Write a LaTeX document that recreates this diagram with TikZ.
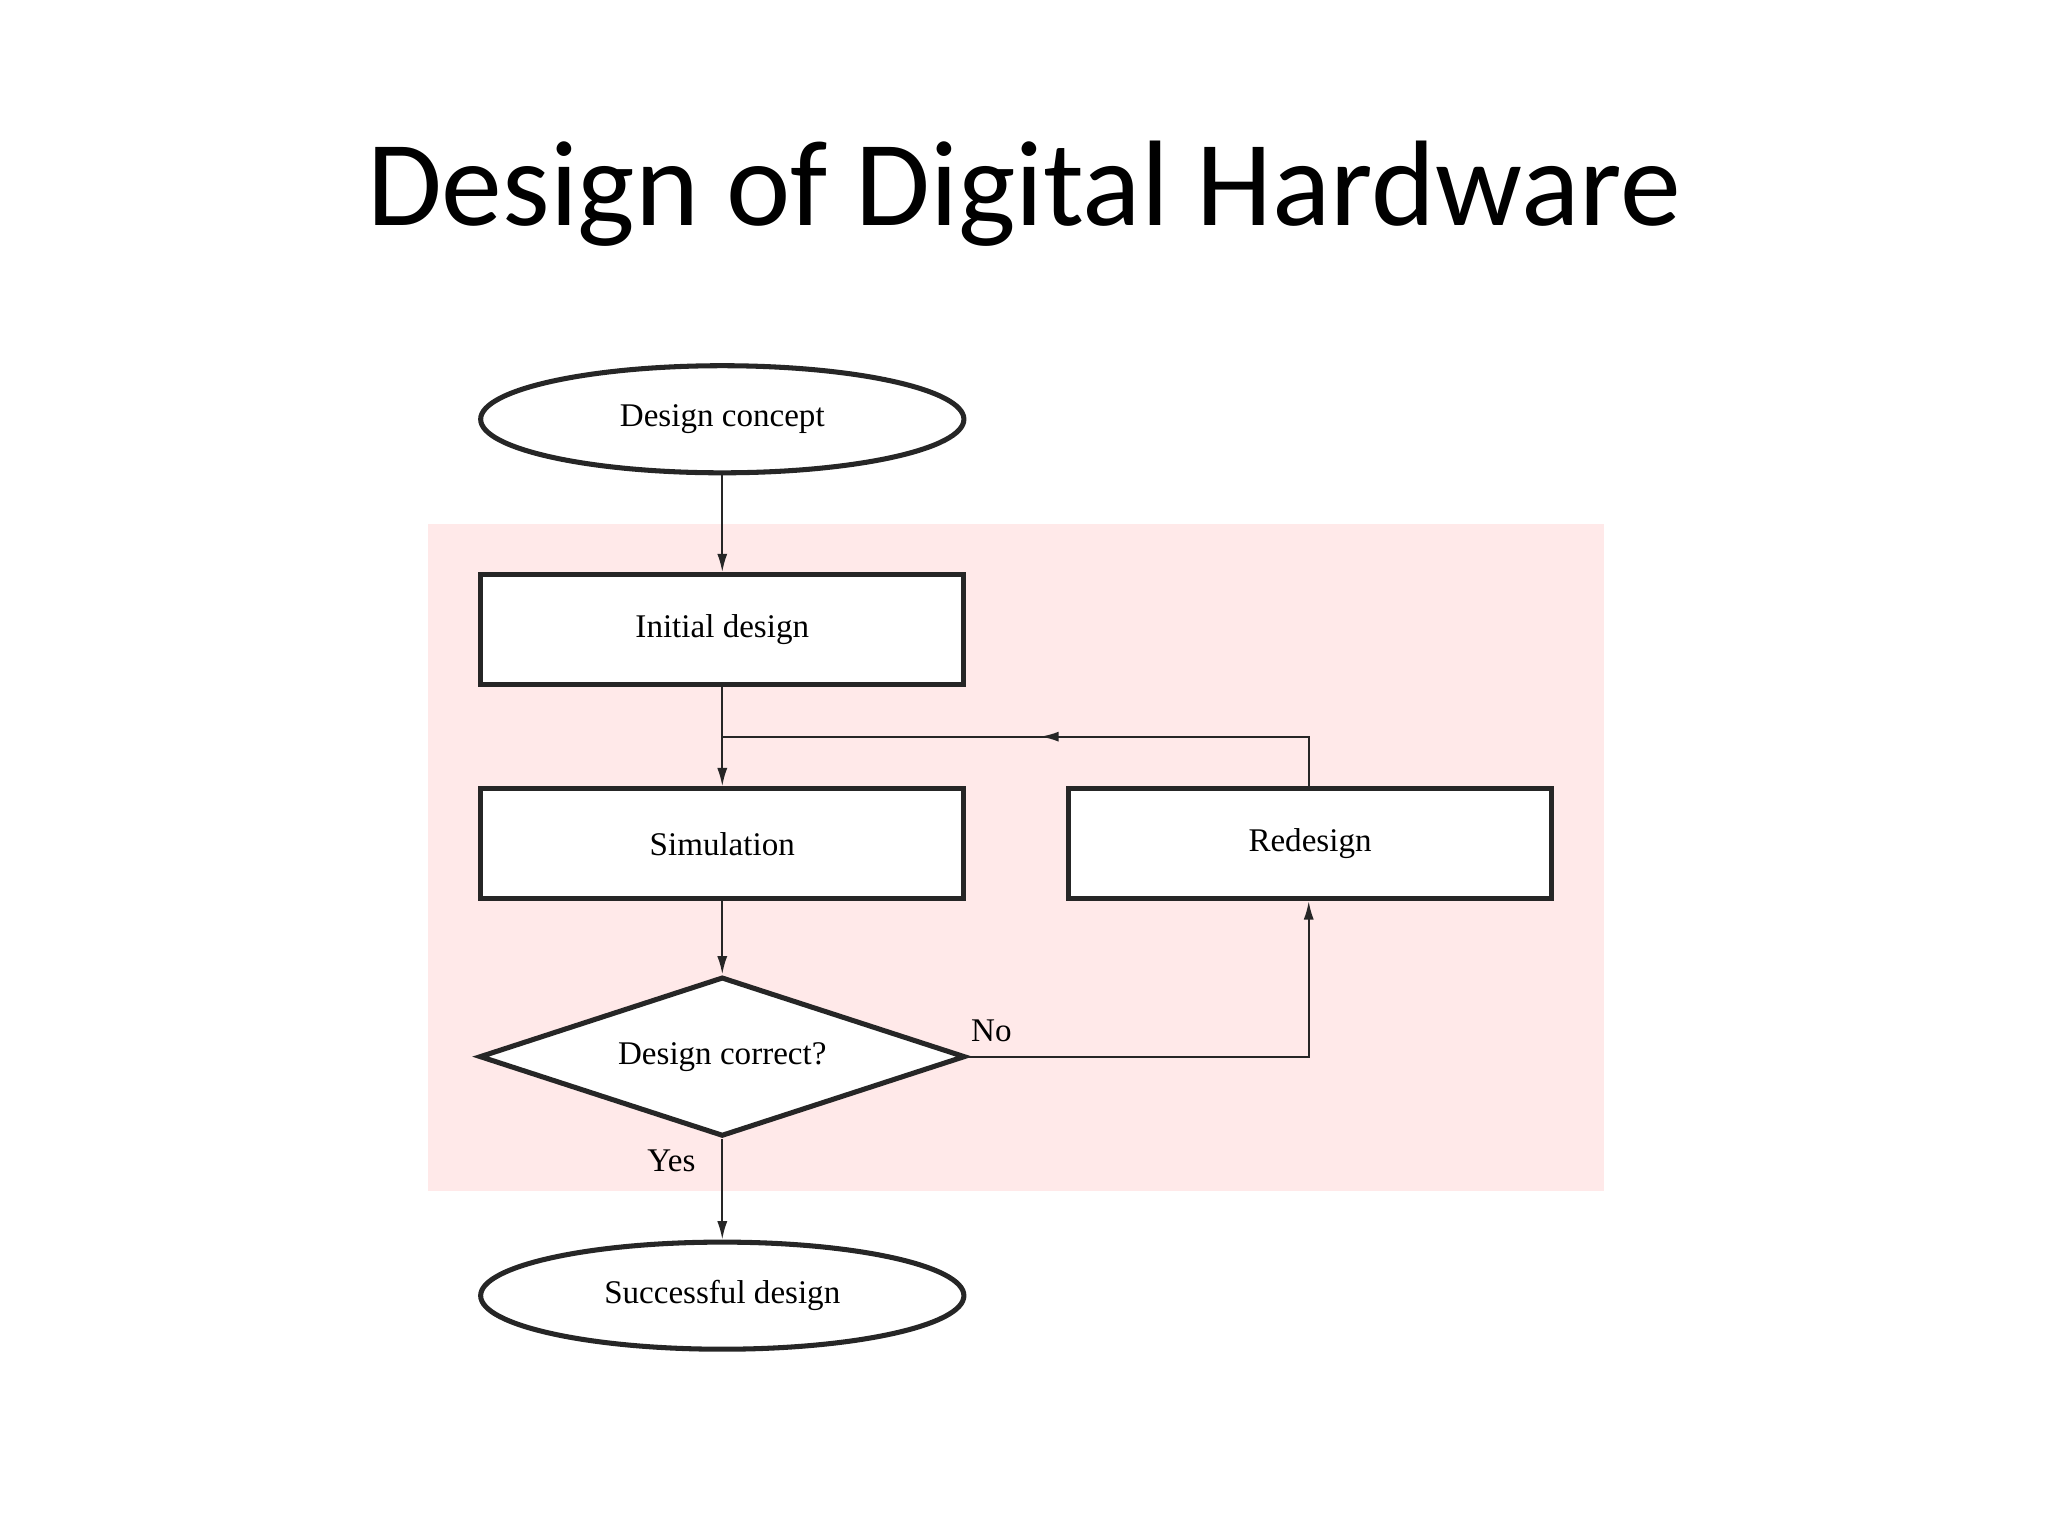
\documentclass[tikz,border=0pt]{standalone}
\usepackage{fontspec}
\setmainfont{Liberation Serif}
\newfontfamily\titlefont{Carlito}
\usetikzlibrary{shapes.geometric,arrows.meta,decorations.markings}
\begin{document}
\begin{tikzpicture}[x=0.01cm,y=-0.01cm,
  box/.style={draw=black!85,line width=1.1pt,fill=white,minimum width=370*0.01cm,minimum height=84*0.01cm,inner sep=0pt,font=\fontsize{7.2}{8}\selectfont},
  oval/.style={ellipse,draw=black!85,line width=1.1pt,fill=white,minimum width=370*0.01cm,minimum height=82*0.01cm,inner sep=0pt,font=\fontsize{7.2}{8}\selectfont},
  dia/.style={diamond,draw=black!85,line width=1.1pt,fill=white,aspect=3.03,minimum width=372*0.01cm,minimum height=122*0.01cm,inner sep=0pt,font=\fontsize{7.2}{8}\selectfont},
  conn/.style={draw=black!85,line width=0.45pt,-{Latex[length=4pt,width=2.2pt]}},
  line/.style={draw=black!85,line width=0.45pt},
  lbl/.style={font=\fontsize{7.2}{8}\selectfont}]
\useasboundingbox (0,0) rectangle (1568,1176);
\node[font=\titlefont\fontsize{26.5}{30}\selectfont] (title) at (784,148) {Design of Digital Hardware};
\fill[pink!35] (328,401) rectangle (1228,912);
\node[oval] (concept) at (553,321) {Design concept};
\node[box] (init) at (553,482) {Initial design};
\node[box] (sim) at (553,646) {Simulation};
\node[box] (redesign) at (1003,646) {Redesign};
\node[dia] (correct) at (553,809) {Design correct?};
\node[oval] (success) at (553,992) {Successful design};
\coordinate (j) at (553,564);
\coordinate (rt) at (1002,564);
\coordinate (nb) at (1002,809);
\draw[conn] (concept) -- (init);
\draw[conn] (init) -- (sim);
\draw[conn] (sim) -- (correct);
\draw[conn] (correct) -- (success);
\draw[conn] (correct.east) -- (nb) -- (redesign.south -| nb);
\draw[line,postaction={decorate},decoration={markings,mark=at position 0.5 with {\arrow{Latex[length=4pt,width=2.2pt]}}}] (redesign.north -| rt) -- (rt) -- (j);
\node[lbl] (no) at (759,789) {No};
\node[lbl] (yes) at (514,889) {Yes};
\end{tikzpicture}
\end{document}
